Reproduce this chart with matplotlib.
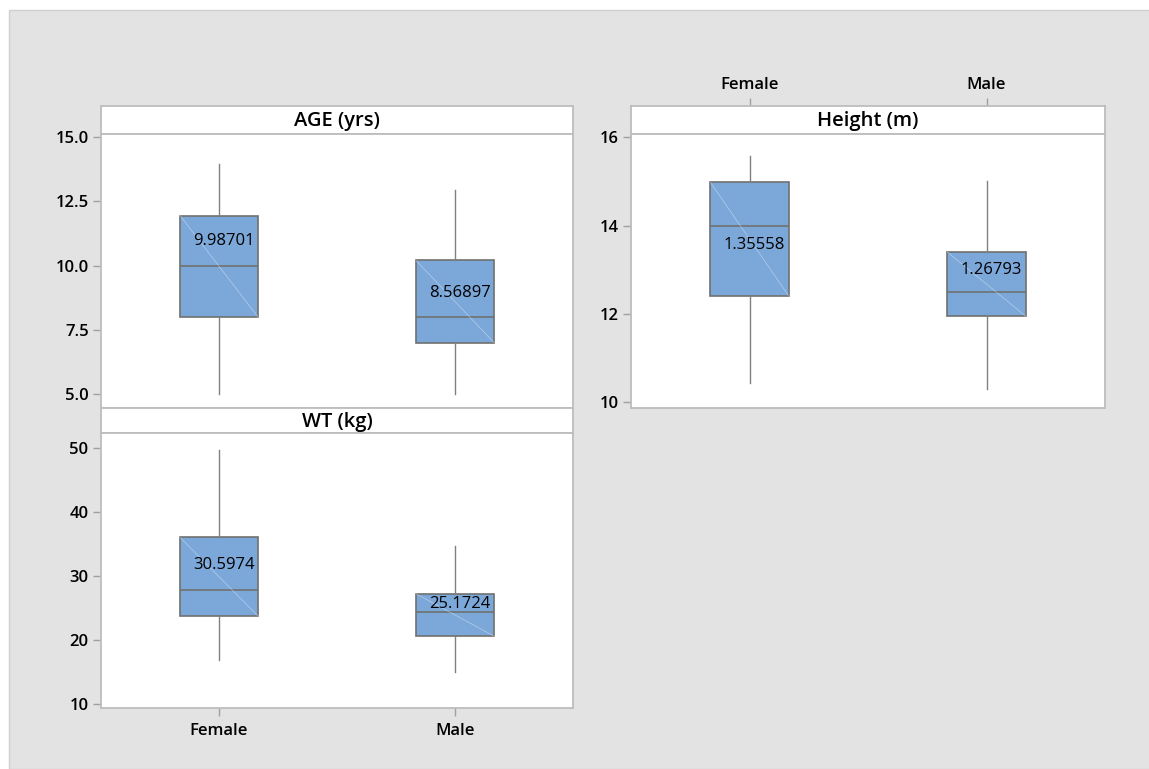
import matplotlib.pyplot as plt
from matplotlib.patches import Rectangle

plt.rcParams["font.family"] = ["Open Sans", "DejaVu Sans"]

groups = ["Female", "Male"]

# box stats: whisker low, Q1, median, Q3, whisker high
age_low = [5.0, 5.0]
age_q1 = [8.0, 7.0]
age_med = [10.0, 8.0]
age_q3 = [11.95, 10.2]
age_high = [13.95, 12.95]
age_mean = ["9.98701", "8.56897"]
age_label_y = [10.94, 8.95]

wt_low = [16.9, 15.05]
wt_q1 = [23.75, 20.6]
wt_med = [27.8, 24.4]
wt_q3 = [36.0, 27.2]
wt_high = [49.6, 34.7]
wt_mean = ["30.5974", "25.1724"]
wt_label_y = [31.7, 25.6]

ht_low = [10.43, 10.3]
ht_q1 = [12.41, 11.95]
ht_med = [14.0, 12.5]
ht_q3 = [14.98, 13.4]
ht_high = [15.58, 15.0]
ht_mean = ["1.35558", "1.26793"]
ht_label_y = [13.56, 13.0]

W, H = 1149, 769
fig = plt.figure(figsize=(W / 100, H / 100), dpi=100)
fig.patch.set_facecolor("white")
fig.patches.append(Rectangle((9 / W, 0), 1, 1 - 10 / H, transform=fig.transFigure,
                             facecolor="#e3e3e3", edgecolor="#cfcfcf", lw=1, zorder=-10))

spine_col = "#bdbdbd"
box_col = "#7ba7d9"
edge_col = "#707070"
tick_fs = 12


def px_axes(x0, y0, x1, y1):
    return fig.add_axes([x0 / W, 1 - y1 / H, (x1 - x0) / W, (y1 - y0) / H])


def style(ax):
    ax.set_facecolor("white")
    for s in ax.spines.values():
        s.set_color(spine_col)
        s.set_linewidth(1.3)
    ax.tick_params(color="#a0a0a0", length=6, width=1, labelsize=tick_fs, pad=3)
    for lab in ax.get_yticklabels() + ax.get_xticklabels():
        lab.set_fontweight("semibold")


def strip(x0, y0, x1, y1, title):
    ax = px_axes(x0, y0, x1, y1)
    ax.set_xlim(-0.5, 1.5)
    ax.set_yticks([])
    ax.set_xticks([])
    style(ax)
    ax.text(0.5, 0.45, title, transform=ax.transAxes, ha="center", va="center",
            fontsize=14.5, fontweight="semibold")
    return ax


def panel(ax, low, q1, med, q3, high, means, label_y, ylim, yticks, fmt):
    stats = []
    for i in range(len(groups)):
        stats.append({"whislo": low[i], "q1": q1[i], "med": med[i], "q3": q3[i],
                      "whishi": high[i], "fliers": []})
    w = 0.33
    ax.bxp(stats, positions=range(len(groups)), widths=w, patch_artist=True,
           showcaps=False,
           boxprops=dict(facecolor=box_col, edgecolor=edge_col, linewidth=1.2),
           medianprops=dict(color=edge_col, linewidth=1.2),
           whiskerprops=dict(color="#808080", linewidth=1.0))
    for i in range(len(groups)):
        ax.plot([i - w / 2, i + w / 2], [q3[i], q1[i]], color="white", lw=0.5,
                alpha=0.45, zorder=5)
        ax.text(i + 0.02, label_y[i], means[i], ha="center", va="center",
                fontsize=12, zorder=6)
    ax.set_xlim(-0.5, 1.5)
    ax.set_ylim(*ylim)
    ax.set_yticks(yticks)
    ax.set_yticklabels([fmt.format(v) for v in yticks])
    style(ax)


# AGE
strip(101, 105.7, 573, 133.7, "AGE (yrs)")
ax_age = px_axes(101, 133.7, 573, 408.3)
panel(ax_age, age_low, age_q1, age_med, age_q3, age_high, age_mean, age_label_y,
      (4.44, 15.14), [5.0, 7.5, 10.0, 12.5, 15.0], "{:.1f}")
ax_age.set_xticks([])

# WT
strip(101, 408.3, 573, 433.3, "WT (kg)")
ax_wt = px_axes(101, 433.3, 573, 708)
panel(ax_wt, wt_low, wt_q1, wt_med, wt_q3, wt_high, wt_mean, wt_label_y,
      (9.38, 52.25), [10, 20, 30, 40, 50], "{:d}")
ax_wt.set_xticks(range(len(groups)))
ax_wt.set_xticklabels(groups, fontsize=tick_fs, fontweight="semibold")
ax_wt.tick_params(axis="x", pad=5)

# Height
st = strip(631, 105.7, 1105, 133.7, "Height (m)")
st.set_xticks(range(len(groups)))
st.xaxis.tick_top()
st.set_xticklabels(groups, fontsize=tick_fs, fontweight="semibold")
st.tick_params(axis="x", length=6, color="#a0a0a0", pad=3)
ax_ht = px_axes(631, 133.7, 1105, 408)
panel(ax_ht, ht_low, ht_q1, ht_med, ht_q3, ht_high, ht_mean, ht_label_y,
      (9.87, 16.08), [10, 12, 14, 16], "{:d}")
ax_ht.set_xticks([])

fig.savefig("out.png", dpi=100, facecolor=fig.get_facecolor())
